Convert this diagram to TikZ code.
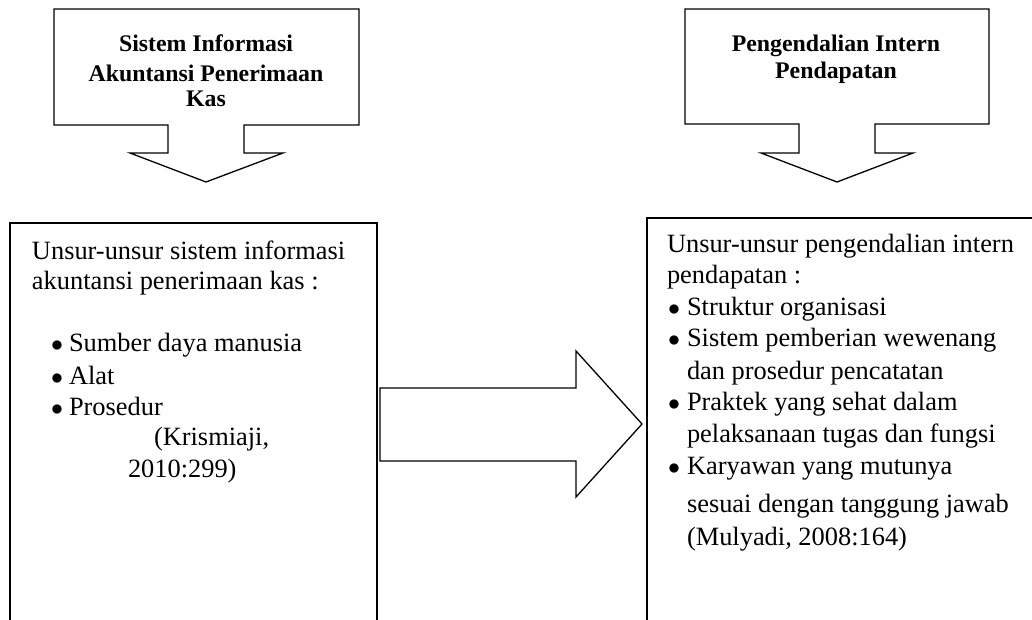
\documentclass[tikz,border=0pt]{standalone}
\usepackage{fontspec}
\setmainfont{Liberation Serif}
\tikzset{
    every node/.style={inner sep=0pt, outer sep=0pt},
    shapeline/.style={draw, line width=0.65pt, line join=miter},
    title/.style={anchor=base, font=\fontsize{11.9}{14}\selectfont\bfseries},
    body/.style={anchor=base west, font=\fontsize{13.2}{15.5}\selectfont},
    dot/.style={anchor=base west, font=\fontsize{13.2}{15.5}\selectfont}
}
\newcommand{\bulletat}[2]{\node (#1) [dot] at (#2) {$\bullet$};}

\begin{document}
\begin{tikzpicture}[x=0.5pt, y=-0.5pt]
	\useasboundingbox (0,0) rectangle (1032,620);
	\clip (0,0) rectangle (1032,620);

	% callout boxes at the top
	\draw[shapeline] (54,9) -- (359,9) -- (359,125) -- (244,125) -- (244,153)
		-- (283,153) -- (206,182) -- (130,153) -- (168,153) -- (168,125)
		-- (54,125) -- cycle;
	\draw[shapeline] (685,9) -- (989,9) -- (989,124) -- (875,124) -- (875,153)
		-- (913,153) -- (837,182) -- (761,153) -- (799,153) -- (799,124)
		-- (685,124) -- cycle;
	\node (t1) [title] at (206,52) {Sistem Informasi};
	\node (t2) [title] at (206,82) {Akuntansi Penerimaan};
	\node (t3) [title] at (206,107) {Kas};
	\node (p1) [title] at (836,52) {Pengendalian Intern};
	\node (p2) [title] at (836,79) {Pendapatan};

	% lower boxes
	\draw[shapeline] (10,223) rectangle (377,650);
	\draw[shapeline] (647,218) rectangle (1060,650);

	% big arrow
	\draw[shapeline] (380,388) -- (576,388) -- (576,351) -- (642,424)
		-- (576,497) -- (576,461) -- (380,461) -- cycle;

	% left text
	\node (l1) [body] at (32,259) {Unsur-unsur sistem informasi};
	\node (l2) [body] at (32,289) {akuntansi penerimaan kas :};
	\bulletat{b1}{51,351} \node (l3) [body] at (69,351) {Sumber daya manusia};
	\bulletat{b2}{51,384} \node (l4) [body] at (69,384) {Alat};
	\bulletat{b3}{51,415} \node (l5) [body] at (69,415) {Prosedur};
	\node (l6) [body] at (154,445) {(Krismiaji,};
	\node (l7) [body] at (128,477) {2010:299)};

	% right text
	\node (r1) [body] at (667,252) {Unsur-unsur pengendalian intern};
	\node (r2) [body] at (667,283) {pendapatan :};
	\bulletat{c1}{668,315} \node (r3) [body] at (687,315) {Struktur organisasi};
	\bulletat{c2}{668,346} \node (r4) [body] at (687,346) {Sistem pemberian wewenang};
	\node (r5) [body] at (687,379) {dan prosedur pencatatan};
	\bulletat{c3}{668,410} \node (r6) [body] at (687,410) {Praktek yang sehat dalam};
	\node (r7) [body] at (687,442) {pelaksanaan tugas dan fungsi};
	\bulletat{c4}{668,474} \node (r8) [body] at (687,474) {Karyawan yang mutunya};
	\node (r9) [body] at (687,512) {sesuai dengan tanggung jawab};
	\node (r10) [body] at (687,545) {(Mulyadi, 2008:164)};
\end{tikzpicture}
\end{document}
